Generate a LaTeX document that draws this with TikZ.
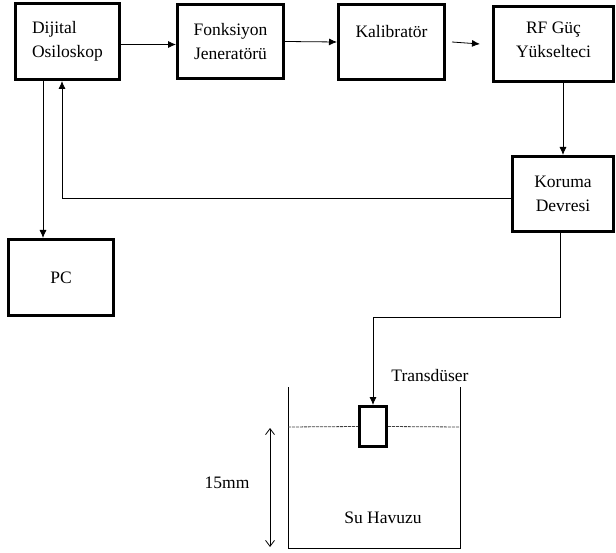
\documentclass[tikz,border=0pt]{standalone}
\usepackage{fontspec}
\setmainfont{Liberation Serif}
\usepackage{tikz}
\usetikzlibrary{arrows.meta}

\begin{document}
\begin{tikzpicture}[x=1pt, y=-1pt,
    kutu/.style={draw, line width=3pt, align=center, inner sep=0pt,
                 font=\fontsize{17.5}{24}\selectfont},
    yazi/.style={font=\fontsize{17.5}{24}\selectfont},
    ok/.style={-{Latex[length=8pt,width=7pt]}, line width=0.8pt},
    ince/.style={line width=0.8pt}]
  \useasboundingbox (0,0) rectangle (616,553);
  % bloklar
  \node[kutu, align=left, minimum width=104pt, minimum height=76pt] (osilo) at (67.5,41.5) {Dijital\\Osiloskop};
  \node[kutu, minimum width=106pt, minimum height=74pt] (fonk) at (230.5,41.5) {Fonksiyon\\Jeneratörü};
  \node[kutu, minimum width=106pt, minimum height=75pt] (kal) at (391.5,42) {};
  \node[yazi] (kalyazi) at ([yshift=10pt]kal.center) {Kalibratör};
  \node[kutu, minimum width=120pt, minimum height=75pt] (rf) at (553.5,44) {};
  \node[yazi, align=center] (rfyazi) at ([yshift=4pt]rf.center) {RF Güç\\Yükselteci};
  \node[kutu, minimum width=101pt, minimum height=75pt] (koruma) at (563,194) {Koruma\\Devresi};
  \node[kutu, minimum width=105pt, minimum height=76pt] (pc) at (61,277.5) {PC};
  \node[kutu, minimum width=27pt, minimum height=40pt] (trans) at (373,426.5) {};
  % baglantilar
  \draw[ok] ([yshift=-3pt]osilo.east) -- ([yshift=-3pt]fonk.west);
  \draw[ok] (fonk.east) -- (kal.west);
  \draw[ok] ([xshift=6pt]kal.east) -- ([xshift=-12pt]rf.west);
  \draw[ok] (koruma.north |- rf.south) -- (koruma.north);
  \draw[ok] ([yshift=-4pt]koruma.west) -| ([xshift=-5.5pt]osilo.south);
  \draw[ok] ([xshift=-24.5pt]osilo.south) -- ([xshift=-24.5pt]osilo.south |- pc.north);
  \draw[ok] ([xshift=-3pt]koruma.south) -- ++(0,84) -| (trans.north);
  % su havuzu
  \draw[ince] (288,387) -- (288,548) -- (460,548) -- (460,387);
  \draw[ince, black!75, dash pattern=on 3pt off 1pt] (288,427) -- (trans.west);
  \draw[ince, black!75, dash pattern=on 3pt off 1pt] (trans.east) -- (460,427);
  \draw[ince, {Straight Barb[length=6pt,width=9pt]}-{Straight Barb[length=6pt,width=9pt]}] (270,428) -- (270,547);
  \node[yazi] (translbl) at (430,376) {Transdüser};
  \node[yazi] (olcu) at (227,483) {15mm};
  \node[yazi] (havuz) at (383,518) {Su Havuzu};
\end{tikzpicture}
\end{document}
